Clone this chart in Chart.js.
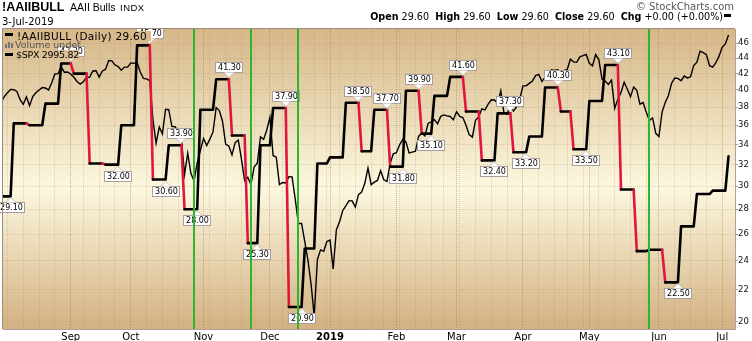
<!DOCTYPE html>
<html><head><meta charset="utf-8">
<script src="https://cdn.jsdelivr.net/npm/chart.js@4.4.1/dist/chart.umd.min.js"></script>
<style>
body{margin:0;background:#fff;}
#wrap{position:relative;width:752px;height:341px;overflow:hidden;background:#fff;}
canvas{position:absolute;left:0;top:0;}
.t{position:absolute;white-space:nowrap;line-height:1;color:#000;}
.dj{font-family:'DejaVu Sans';}
.b{font-weight:bold;}
</style></head><body>
<div id="wrap">
<canvas id="c" width="752" height="341"></canvas>
<div class="t b" style="left:2px;top:1px;font-family:'Liberation Sans';font-size:12.5px;">!AAIIBULL</div>
<div class="t" style="left:70px;top:2px;font-family:'Liberation Sans';font-size:10.5px;">AAII Bulls</div>
<div class="t" style="left:120px;top:3px;font-family:'Liberation Sans';font-size:9.5px;letter-spacing:0.5px;">INDX</div>
<div class="t dj" style="left:2px;top:16.5px;font-size:10px;">3-Jul-2019</div>
<div class="t dj" style="right:18px;top:1.5px;font-size:10px;color:#555;">© StockCharts.com</div>
<div class="t dj" style="right:29px;top:12px;font-size:9.6px;"><span class="b">Open</span> 29.60 &nbsp;<span class="b">High</span> 29.60 &nbsp;<span class="b">Low</span> 29.60 &nbsp;<span class="b">Close</span> 29.60 &nbsp;<span class="b">Chg</span> +0.00 (+0.00%)</div>
<div style="position:absolute;left:724px;top:13.5px;width:7px;height:3px;background:#000;"></div>
<!-- legend -->
<div style="position:absolute;left:5px;top:33px;width:8px;height:3px;background:#000;"></div>
<div class="t dj" style="left:17px;top:30.5px;font-size:10.5px;letter-spacing:0.3px;background:#d7b98b;padding-right:4px;">!AAIIBULL (Daily) 29.60</div>
<div style="position:absolute;left:5px;top:44px;width:2px;height:4px;background:#777;"></div>
<div style="position:absolute;left:8px;top:42px;width:2px;height:6px;background:#777;"></div>
<div style="position:absolute;left:11px;top:43px;width:2px;height:5px;background:#777;"></div>
<div class="t dj" style="left:15px;top:40px;font-size:9.5px;color:#555;">Volume undef</div>
<div style="position:absolute;left:5px;top:52.5px;width:8px;height:3px;background:#000;"></div>
<div class="t dj" style="left:16px;top:49.5px;font-size:9.5px;letter-spacing:-0.3px;background:#dbc094;">$SPX 2995.82</div>
</div>
<script>
// ---------------- data ----------------
const marketHolidays = ['2018-09-03','2018-11-22','2018-12-05','2018-12-25','2019-01-01','2019-01-21','2019-02-18','2019-04-19','2019-05-27'];
const calStart = '2018-08-01';
const calEnd = '2019-07-03';
const monthNames = ['Jan','Feb','Mar','Apr','May','Jun','Jul','Aug','Sep','Oct','Nov','Dec'];

// AAII bullish %, one value per weekly (Wednesday) survey, starting 2018-08-01
const aaiiFirstWeek = '2018-08-01';
const aaiiBulls = [
  29.1, 36.2, 36.0, 38.4, 43.3,          // Aug
  42.0, 32.1, 32.0, 36.0,                // Sep
  45.7, 30.6, 33.9, 28.0, 37.7,          // Oct
  41.3, 34.9, 25.3, 33.9,                // Nov
  37.9, 20.9, 24.9, 32.1,                // Dec
  32.7, 38.5, 33.3, 37.7, 31.8,          // Jan
  39.9, 35.1, 39.3, 41.6,                // Feb
  37.5, 32.4, 37.3, 33.2,                // Mar
  34.8, 40.3, 37.5, 33.5,                // Apr
  38.7, 43.1, 29.7, 24.7, 24.8,          // May
  22.5, 26.6, 29.3, 29.6,                // Jun
  32.8                                   // Jul
];
// weeks (index into aaiiBulls) that carry a value flag
const aaiiLabelWeeks = [0, 4, 7, 9, 10, 11, 12, 14, 16, 18, 19, 23, 25, 26, 27, 28, 30, 32, 33, 34, 36, 38, 40, 44];

// S&P 500 daily closes, trading days from 2018-08-01
const spxClose = [
  2813.36,2827.22,2840.35,2850.40,2858.45,2857.70,2853.58,2833.28,2821.93,2839.96,2818.37,2840.69,2850.13,2857.05,2862.96,2861.82,2856.98,2874.69,2896.74,2897.52,2914.04,2901.13,2901.52,
  2896.72,2888.60,2878.05,2871.68,2877.13,2887.89,2888.92,2904.18,2904.98,2888.80,2904.31,2907.95,2930.75,2929.67,2919.37,2915.56,2905.97,2914.00,2913.98,
  2924.59,2923.43,2925.51,2901.61,2885.57,2884.43,2880.34,2785.68,2728.37,2767.13,2750.79,2809.92,2809.21,2768.78,2767.78,2755.88,2740.69,2656.10,2705.57,2658.69,2641.25,2682.63,2711.74,
  2740.37,2723.06,2738.31,2755.45,2813.89,2806.83,2781.01,2726.22,2722.18,2701.58,2730.20,2736.27,2690.73,2641.89,2649.93,2632.56,2673.45,2682.17,2743.79,2737.80,2760.17,
  2790.37,2700.06,2695.95,2633.08,2637.72,2636.78,2651.07,2650.54,2599.95,2545.94,2546.16,2506.96,2467.42,2416.62,2351.10,2467.70,2488.83,2485.74,2506.85,
  2510.03,2447.89,2531.94,2549.69,2574.41,2584.96,2596.64,2596.26,2582.61,2610.30,2616.10,2635.96,2670.71,2632.90,2638.70,2642.33,2664.76,2643.85,2640.00,2681.05,2704.10,
  2706.53,2724.87,2737.70,2731.61,2706.05,2707.88,2709.80,2744.73,2753.03,2745.73,2775.60,2779.76,2784.70,2774.88,2792.67,2796.11,2793.90,2792.38,2784.49,
  2803.69,2792.81,2789.65,2771.45,2748.93,2743.07,2783.30,2791.52,2810.92,2808.48,2822.48,2832.94,2832.57,2824.23,2854.88,2800.71,2798.36,2818.46,2805.37,2815.44,2834.40,
  2867.19,2867.24,2873.40,2879.39,2892.74,2895.77,2878.20,2888.21,2888.32,2907.41,2905.58,2907.06,2900.45,2905.03,2907.97,2933.68,2927.25,2926.17,2939.88,2943.03,2945.83,
  2923.73,2917.52,2945.64,2932.47,2884.05,2879.42,2870.72,2881.40,2811.87,2834.41,2850.96,2876.32,2859.53,2840.23,2864.36,2856.27,2822.24,2826.06,2802.39,2783.02,2788.86,2752.06,
  2744.45,2803.27,2826.15,2843.49,2873.34,2886.73,2885.72,2879.84,2891.64,2886.98,2889.67,2917.75,2926.46,2954.18,2950.46,2945.35,2917.38,2913.78,2924.92,2941.76,
  2964.33,2973.01,2995.82
];
const yTickValues = [20,22,24,26,28,30,32,34,36,38,40,42,44,46];
const markerDates = ['2018-10-29','2018-11-23','2018-12-17','2019-05-29'];

// ---------------- trading calendar ----------------
const DAY = 86400000;
function parse(s){const p=s.split('-').map(Number);return Date.UTC(p[0],p[1]-1,p[2]);}
function ymd(t){return new Date(t).toISOString().slice(0,10);}
const days = [];
for(let t=parse(calStart); t<=parse(calEnd); t+=DAY){
  const wd=new Date(t).getUTCDay(); const s=ymd(t);
  if(wd>0 && wd<6 && !marketHolidays.includes(s)) days.push(s);
}
function idxOnOrBefore(s){let r=0;for(let i=0;i<days.length;i++){if(days[i]<=s) r=i;}return r;}

// week & month starts -> vertical grid / labels
const monthStart = new Set(), tickIdx=[], monthLabel={};
const mondayKey = s => Math.floor((parse(s)-parse('2018-07-30'))/ (7*DAY));
days.forEach((s,i)=>{
  const newMonth = i===0 || s.slice(0,7)!==days[i-1].slice(0,7);
  const newWeek = i===0 || mondayKey(s)!==mondayKey(days[i-1]);
  if(newMonth){monthStart.add(i); const m=+s.slice(5,7)-1; monthLabel[i]= m===0 ? s.slice(0,4) : monthNames[m];}
  if(newMonth||newWeek) tickIdx.push(i);
});

// AAII step points
const aaiiIdx = aaiiBulls.map((v,k)=>idxOnOrBefore(ymd(parse(aaiiFirstWeek)+k*7*DAY)));
const aaiiPts = [];
aaiiBulls.forEach((v,k)=>{
  aaiiPts.push({x:aaiiIdx[k], y:v});
  if(k<aaiiBulls.length-1) aaiiPts.push({x:aaiiIdx[k+1]-1, y:v});
});
const spxPts = spxClose.map((v,i)=>({x:i,y:v}));

// ---------------- chart ----------------
const X_MIN=1.593, X_MAX=233.05, Y_MIN=19.57, Y_MAX=48.0, S_MIN=2324.5, S_MAX=3011.4;
const RED='#e0163e', GRID='rgba(165,132,92,0.30)', GRID_M='rgba(150,115,80,0.50)', AXC='#b89c9c';

const bgPlugin = {id:'bg',
  beforeDraw(chart){
    const {ctx,chartArea:a}=chart;
    const g=ctx.createLinearGradient(0,a.top,0,a.bottom);
    g.addColorStop(0,'#d6b788'); g.addColorStop(0.53,'#fcf8df'); g.addColorStop(1,'#d3b182');
    ctx.save(); ctx.fillStyle=g; ctx.fillRect(a.left,a.top,a.right-a.left,a.bottom-a.top); ctx.restore();
  },
  afterDraw(chart){
    const {ctx,chartArea:a}=chart;
    ctx.save(); ctx.strokeStyle='#a08c7a'; ctx.lineWidth=1;
    ctx.beginPath(); ctx.moveTo(a.left-0.5,a.bottom); ctx.lineTo(a.left-0.5,a.top-0.5); ctx.lineTo(a.right,a.top-0.5); ctx.stroke();
    ctx.restore();
  }
};
const flagPlugin = {id:'flags',
  afterDatasetsDraw(chart){
    const {ctx,chartArea:a}=chart; const xs=chart.scales.x, ys=chart.scales.y;
    ctx.save();
    ctx.font='8px "DejaVu Sans"'; ctx.textAlign='center'; ctx.textBaseline='middle';
    aaiiLabelWeeks.forEach(k=>{
      const v=aaiiBulls[k]; const peak = v>aaiiBulls[k+1];
      const px=Math.round(xs.getPixelForValue(aaiiIdx[k+1]-1)); const py=ys.getPixelForValue(v);
      const txt=v.toFixed(2); const w=Math.ceil(ctx.measureText(txt).width)+5, h=11, gap=6;
      const bx=Math.round(px-w/2), by=Math.round(peak? py-gap-h : py+gap);
      ctx.fillStyle='#fff'; ctx.fillRect(bx,by,w,h);
      ctx.strokeStyle='#aa9e9e'; ctx.lineWidth=1; ctx.strokeRect(bx+0.5,by+0.5,w-1,h-1);
      const ty = peak? by+h-0.5 : by+0.5; const tip = peak? ty+5 : ty-5;
      ctx.beginPath(); ctx.moveTo(px-5,ty); ctx.lineTo(px,tip); ctx.lineTo(px+5,ty); ctx.closePath();
      ctx.fillStyle='#fff'; ctx.fill();
      ctx.beginPath(); ctx.moveTo(px-5,ty); ctx.lineTo(px,tip); ctx.lineTo(px+5,ty); ctx.strokeStyle='#c4baba'; ctx.stroke();
      ctx.fillStyle='#000'; ctx.fillText(txt, px+0.5, by+h/2+0.5);
    });
    ctx.strokeStyle='#2db52d'; ctx.lineWidth=2;
    markerDates.forEach(d=>{
      const x=Math.round(xs.getPixelForValue(idxOnOrBefore(d)));
      ctx.beginPath(); ctx.moveTo(x,a.top); ctx.lineTo(x,a.bottom); ctx.stroke();
    });
    ctx.restore();
  }
};

new Chart(document.getElementById('c'),{
  type:'line',
  data:{datasets:[
    {label:'!AAIIBULL', data:aaiiPts, yAxisID:'y', borderColor:'#000', borderWidth:2.6, pointRadius:0, tension:0,
     borderJoinStyle:'round', borderCapStyle:'round',
     segment:{borderColor:c=> c.p1.parsed.y < c.p0.parsed.y ? RED : '#000'}, order:0},
    {label:'$SPX', data:spxPts, yAxisID:'y2', borderColor:'#000', borderWidth:1.4, pointRadius:0, tension:0, order:1}
  ]},
  options:{
    responsive:false, animation:false, devicePixelRatio:1, events:[],
    layout:{padding:{left:3,top:29,right:0,bottom:0}},
    plugins:{legend:{display:false}, tooltip:{enabled:false}},
    scales:{
      x:{type:'linear', min:X_MIN, max:X_MAX, bounds:'data', position:'bottom',
        afterFit:s=>{s.height=12;},
        afterBuildTicks:s=>{s.ticks=tickIdx.filter(v=>v>=X_MIN&&v<=X_MAX).map(v=>({value:v}));},
        ticks:{autoSkip:false, maxRotation:0, minRotation:0, padding:2, color:'#000',
          font:c=>({family:'DejaVu Sans', size:10, weight:(c.tick && monthLabel[c.tick.value]==='2019')?'bold':'normal'}),
          callback:v=>monthLabel[v]||''},
        grid:{drawTicks:false, color:c=> (c.tick && monthStart.has(c.tick.value)) ? GRID_M : GRID, lineWidth:1},
        border:{display:true, color:AXC, dash:[1,1], width:1}},
      y:{type:'logarithmic', position:'right', min:Y_MIN, max:Y_MAX, bounds:'data',
        afterFit:s=>{s.width=17;},
        afterBuildTicks:s=>{s.ticks=yTickValues.map(v=>({value:v}));},
        ticks:{autoSkip:false, padding:0, color:'#111', font:{family:'DejaVu Sans', size:8.5}, callback:v=>String(v)},
        grid:{color:GRID, tickLength:3, tickColor:AXC},
        border:{display:true, color:AXC, dash:[1,1], width:1}},
      y2:{type:'logarithmic', display:false, min:S_MIN, max:S_MAX, bounds:'data'}
    }
  },
  plugins:[bgPlugin, flagPlugin]
});
</script>
</body></html>
